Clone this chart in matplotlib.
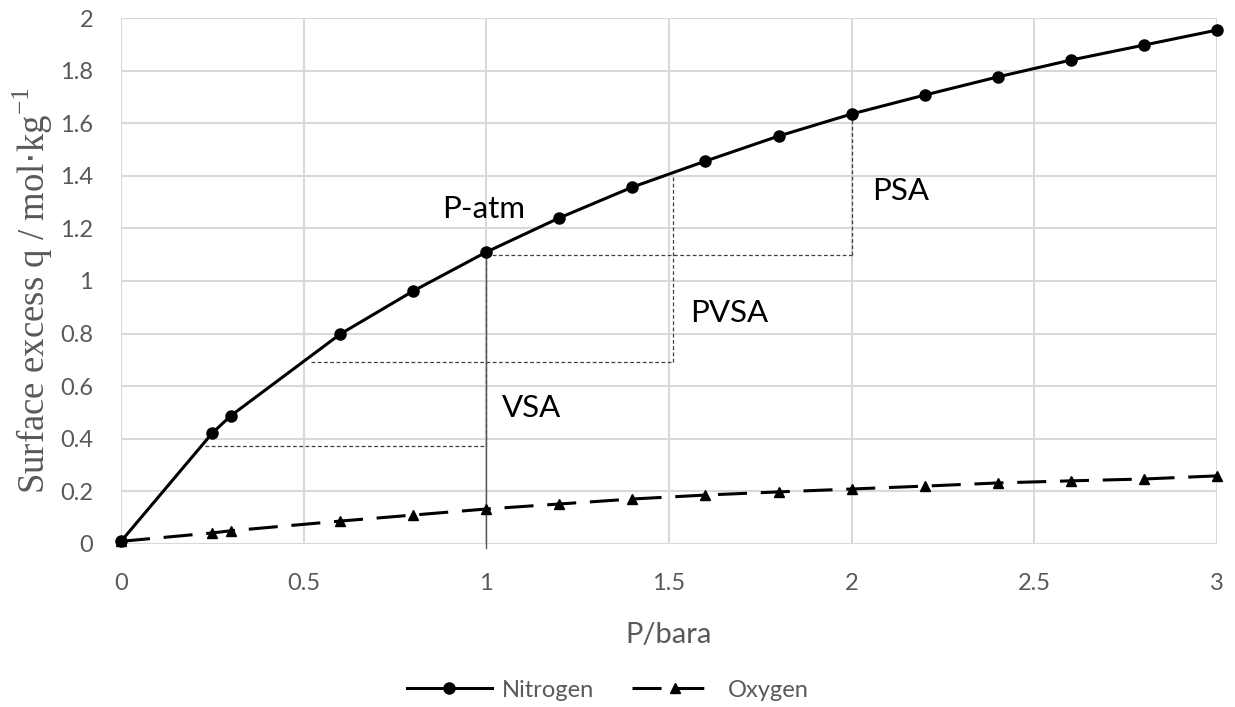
import matplotlib
matplotlib.use("Agg")
import matplotlib.pyplot as plt
from matplotlib.lines import Line2D

# Isotherm data (pressure in bara, surface excess in mol/kg)
pressure = [0, 0.25, 0.3, 0.6, 0.8, 1.0, 1.2, 1.4, 1.6, 1.8, 2.0, 2.2, 2.4, 2.6, 2.8, 3.0]
nitrogen = [0.01, 0.422, 0.487, 0.798, 0.962, 1.11, 1.24, 1.357, 1.456, 1.551,
            1.635, 1.707, 1.776, 1.84, 1.897, 1.954]
oxygen = [0.01, 0.042, 0.05, 0.087, 0.11, 0.133, 0.152, 0.171, 0.186, 0.198,
          0.209, 0.22, 0.232, 0.24, 0.247, 0.259]

x_ticks = [0, 0.5, 1, 1.5, 2, 2.5, 3]
x_tick_labels = ["0", "0.5", "1", "1.5", "2", "2.5", "3"]
y_ticks = [0, 0.2, 0.4, 0.6, 0.8, 1.0, 1.2, 1.4, 1.6, 1.8, 2.0]
y_tick_labels = ["0", "0.2", "0.4", "0.6", "0.8", "1", "1.2", "1.4", "1.6", "1.8", "2"]

# Process swing windows: horizontal (x_start, x_end, q) / vertical (x, q_low, q_high)
swing_h = [(0.23, 1.0, 0.373), (0.52, 1.51, 0.692), (1.0, 2.0, 1.099)]
swing_v = [(1.0, 0.373, 1.099), (1.51, 0.692, 1.399), (2.0, 1.099, 1.635)]

# Region labels: text, x, baseline q
labels = [("P-atm", 0.879, 1.24), ("PVSA", 1.558, 0.844), ("PSA", 2.056, 1.308), ("VSA", 1.043, 0.483)]

GRID = "#d9d9d9"
TXT = "#595959"
SANS = ["Lato", "DejaVu Sans"]

fig = plt.figure(figsize=(12.35, 7.07), dpi=100)
ax = fig.add_axes([0.098, 0.2306, 0.8873, 0.7439])

ax.set_xlim(0, 3)
ax.set_ylim(0, 2)
ax.set_xticks(x_ticks)
ax.set_xticklabels(x_tick_labels)
ax.set_yticks(y_ticks)
ax.set_yticklabels(y_tick_labels)
ax.grid(True, color=GRID, linewidth=1.5)
ax.set_axisbelow(True)
for s in ax.spines.values():
    s.set_visible(False)
ax.tick_params(length=0, labelsize=17, labelcolor=TXT)
ax.tick_params(axis="x", pad=21)
ax.tick_params(axis="y", pad=20)
for t in ax.get_xticklabels() + ax.get_yticklabels():
    t.set_family(SANS)

# dotted swing window guides
for x0, x1, y in swing_h:
    ax.plot([x0, x1], [y, y], color="#404040", lw=0.9, linestyle=(0, (3, 2)), zorder=2)
for x, y0, y1 in swing_v:
    ax.plot([x, x], [y0, y1], color="#404040", lw=0.9, linestyle=(0, (3, 2)), zorder=2)
# atmospheric pressure reference line
ax.plot([1.0, 1.0], [-0.015, 1.099], color="#555555", lw=1.0, zorder=2, clip_on=False)

N2_STYLE = dict(color="black", lw=2.2, marker="o", markersize=8)
O2_STYLE = dict(color="black", lw=2.2, linestyle=(0, (9.5, 4.5)), marker="^", markersize=7.5)

ax.plot(pressure, nitrogen, zorder=4, clip_on=False, **N2_STYLE)
ax.plot(pressure, oxygen, zorder=4, clip_on=False, **O2_STYLE)

for txt, x, y in labels:
    ax.text(x, y, txt, fontsize=22.5, family=SANS, color="black", va="baseline", ha="left")

ax.set_xlabel("P/bara", fontsize=21, color=TXT, family=SANS)
ax.xaxis.label.set_va("baseline")
ax.xaxis.set_label_coords(0.5, -0.188)

ax.set_ylabel(r"Surface excess q / mol$\cdot$kg$^{\mathregular{-1}}$", fontsize=26.5,
              color=TXT, family="Liberation Serif")
ax.yaxis.set_label_coords(-0.06, 0.483)

handles = [Line2D([], [], **N2_STYLE), Line2D([], [], **O2_STYLE)]
leg = fig.legend(handles, ["Nitrogen", "Oxygen"], loc="center", bbox_to_anchor=(0.492, 0.024),
                 ncol=2, frameon=False, handlelength=3.6, handletextpad=0.45,
                 columnspacing=1.6, prop={"family": SANS, "size": 17})
for t in leg.get_texts():
    t.set_color(TXT)

fig.savefig("out.png", dpi=100)
